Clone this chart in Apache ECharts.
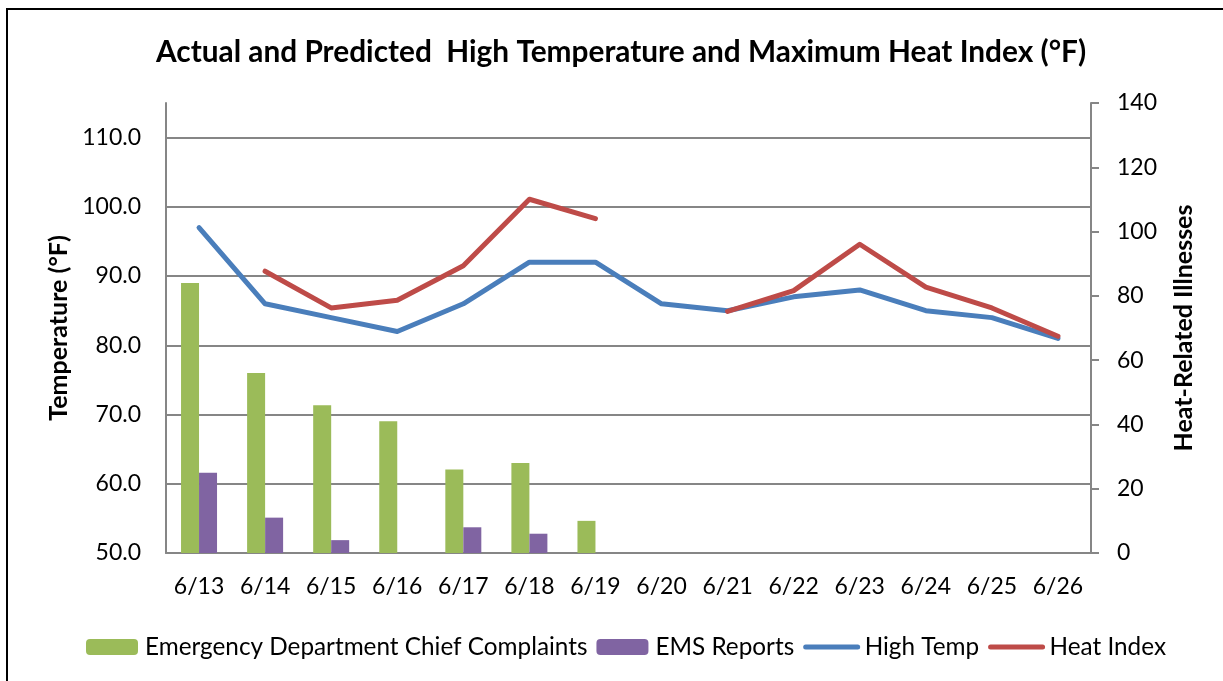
<!DOCTYPE html>
<html>
<head>
<meta charset="utf-8">
<script src="https://cdn.jsdelivr.net/npm/echarts@6/dist/echarts.min.js"></script>
<style>
  html, body { margin: 0; padding: 0; background: #fff; }
  #chart { width: 1223px; height: 681px; }
</style>
</head>
<body>
<div id="chart"></div>
<script>
var categories = ['6/13', '6/14', '6/15', '6/16', '6/17', '6/18', '6/19', '6/20', '6/21', '6/22', '6/23', '6/24', '6/25', '6/26'];
var edComplaints = [84, 56, 46, 41, 26, 28, 10, null, null, null, null, null, null, null];
var emsReports = [25, 11, 4, 0, 8, 6, 0, null, null, null, null, null, null, null];
var highTemp = [97, 86, 84, 82, 86, 92, 92, 86, 85, 87, 88, 85, 84, 81];
var heatIndex = [null, 90.7, 85.4, 86.5, 91.5, 101.1, 98.3, null, 84.9, 87.9, 94.6, 88.4, 85.4, 81.3];
var tempTicks = { min: 50, max: 115, interval: 10 };
var illTicks = { min: 0, max: 140, interval: 20 };

var font = 'Lato';
var gray = '#868686';

var chart = echarts.init(document.getElementById('chart'));

// line legend entries: plain thick line, no dot
var lineLegend = function (name) {
    return { name: name, itemStyle: { opacity: 0 }, lineStyle: { width: 5, cap: 'round' } };
};

var option = {
    backgroundColor: '#fff',
    animation: false,
    title: {
        text: 'Actual and Predicted  High Temperature and Maximum Heat Index (°F)',
        left: 151,
        top: 32,
        textStyle: { fontFamily: font, fontWeight: 'bold', fontSize: 29.8, color: '#000' }
    },
    graphic: [{
        type: 'rect',
        shape: { x: 7, y: 9, width: 1400, height: 900 },
        style: { fill: null, stroke: '#000', lineWidth: 2 },
        silent: true
    }],
    legend: {
        left: 81,
        top: 630,
        itemWidth: 52,
        itemHeight: 16,
        itemGap: 9,
        textStyle: { fontFamily: font, fontSize: 24.3, color: '#000', padding: [0, 0, 0, 2] },
        data: ['Emergency Department Chief Complaints', 'EMS Reports', lineLegend('High Temp'), lineLegend('Heat Index')]
    },
    grid: { left: 166, right: 132, top: 103, bottom: 128 },
    xAxis: {
        type: 'category',
        data: categories,
        axisLine: { lineStyle: { color: gray, width: 2 } },
        axisTick: { show: false },
        axisLabel: { fontFamily: font, fontSize: 23, color: '#000', margin: 22 }
    },
    yAxis: [{
        type: 'value',
        min: tempTicks.min,
        max: tempTicks.max,
        interval: tempTicks.interval,
        name: 'Temperature (°F)',
        nameLocation: 'middle',
        nameRotate: 90,
        nameGap: 92,
        nameTextStyle: { fontFamily: font, fontWeight: 'bold', fontSize: 25, color: '#000' },
        axisLine: { show: true, lineStyle: { color: gray, width: 2 } },
        axisTick: { show: false },
        axisLabel: {
            fontFamily: font, fontSize: 23, color: '#000', margin: 25,
            showMaxLabel: false,
            formatter: function (v) { return v.toFixed(1); }
        },
        splitLine: { show: true, showMaxLine: false, lineStyle: { color: gray, width: 2 } }
    }, {
        type: 'value',
        min: illTicks.min,
        max: illTicks.max,
        interval: illTicks.interval,
        position: 'right',
        name: 'Heat-Related Illnesses',
        nameLocation: 'middle',
        nameRotate: 90,
        nameGap: 80,
        nameTextStyle: { fontFamily: font, fontWeight: 'bold', fontSize: 25, color: '#000' },
        axisLine: { show: true, lineStyle: { color: gray, width: 2 } },
        axisTick: { show: true, length: 8, lineStyle: { color: gray, width: 2 } },
        axisLabel: { fontFamily: font, fontSize: 23, color: '#000', margin: 26 },
        splitLine: { show: false }
    }],
    series: [{
        name: 'Emergency Department Chief Complaints',
        type: 'bar',
        yAxisIndex: 1,
        data: edComplaints,
        barWidth: 18,
        barGap: '0%',
        itemStyle: { color: '#9BBB59' }
    }, {
        name: 'EMS Reports',
        type: 'bar',
        yAxisIndex: 1,
        data: emsReports,
        barWidth: 18,
        barGap: '0%',
        itemStyle: { color: '#8064A2' }
    }, {
        name: 'High Temp',
        type: 'line',
        yAxisIndex: 0,
        data: highTemp,
        symbol: 'none',
        lineStyle: { color: '#4A7EBB', width: 5, cap: 'round', join: 'round' },
        itemStyle: { color: '#4A7EBB' }
    }, {
        name: 'Heat Index',
        type: 'line',
        yAxisIndex: 0,
        data: heatIndex,
        symbol: 'none',
        connectNulls: false,
        lineStyle: { color: '#BE4B48', width: 5, cap: 'round', join: 'round' },
        itemStyle: { color: '#BE4B48' }
    }]
};

chart.setOption(option);
</script>
</body>
</html>
